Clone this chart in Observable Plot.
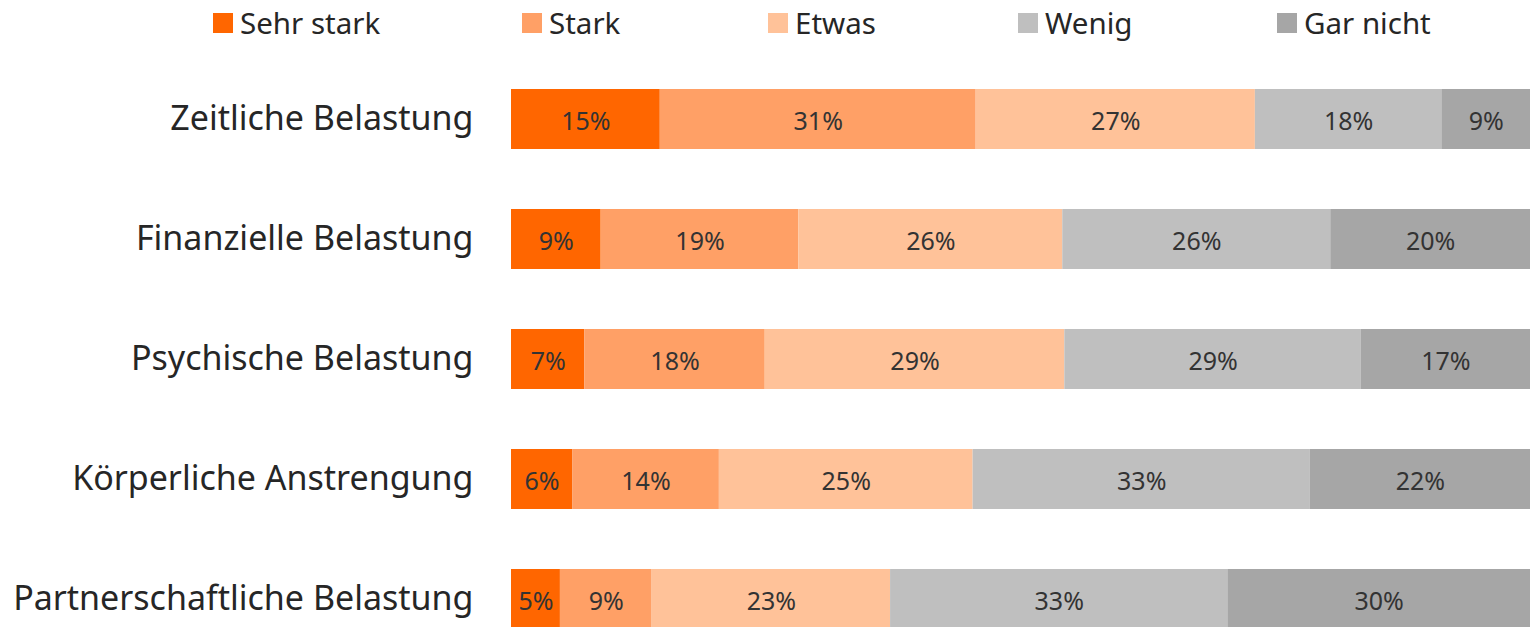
<!DOCTYPE html>
<html>
<head>
<meta charset="utf-8">
<script src="https://cdn.jsdelivr.net/npm/d3@7"></script>
<script src="https://cdn.jsdelivr.net/npm/@observablehq/plot@0.6"></script>
<style>
  html, body { margin: 0; padding: 0; background: #fff; overflow: hidden; }
  #wrap { position: relative; width: 1530px; height: 627px; }
  #legend { position: absolute; top: 0; left: 0; width: 1530px; height: 46px; font-family: "Noto Sans", sans-serif; font-size: 29.5px; color: #262626; }
  .item { position: absolute; top: 2px; display: flex; align-items: center; white-space: nowrap; }
  .sw { width: 20px; height: 20px; margin-right: 7px; }
  #chart { position: absolute; top: 0; left: 0; }
</style>
</head>
<body>
<div id="wrap">
  <div id="chart"></div>
  <div id="legend"></div>
</div>
<script>
const categories = [
  "Zeitliche Belastung",
  "Finanzielle Belastung",
  "Psychische Belastung",
  "Körperliche Anstrengung",
  "Partnerschaftliche Belastung"
];
const levels = ["Sehr stark", "Stark", "Etwas", "Wenig", "Gar nicht"];
const colors = ["#FF6600", "#FFA066", "#FFC299", "#BFBFBF", "#A6A6A6"];

// shares per category (percent), order follows `levels`
const sehrStark = [14.6, 8.8, 7.2, 6.0, 4.8];
const stark     = [31.0, 19.4, 17.7, 14.4, 9.0];
const etwas     = [27.4, 25.9, 29.4, 24.9, 23.4];
const wenig     = [18.3, 26.3, 29.1, 33.1, 33.1];
const garNicht  = [8.7, 19.6, 16.6, 21.6, 29.7];

const series = [sehrStark, stark, etwas, wenig, garNicht];
const data = [];
categories.forEach((c, i) => {
  levels.forEach((l, j) => {
    data.push({category: c, level: l, value: series[j][i]});
  });
});

const legendX = [213, 522, 768, 1018, 1277];
const legend = document.getElementById("legend");
levels.forEach((l, j) => {
  const it = document.createElement("div");
  it.className = "item";
  it.style.left = legendX[j] + "px";
  const sw = document.createElement("div");
  sw.className = "sw";
  sw.style.background = colors[j];
  const tx = document.createElement("span");
  tx.textContent = l;
  it.appendChild(sw);
  it.appendChild(tx);
  legend.appendChild(it);
});

const chart = Plot.plot({
  width: 1530,
  height: 700,
  marginTop: 27,
  marginBottom: 10,
  marginLeft: 511,
  marginRight: 0,
  style: {fontFamily: "'Noto Sans', sans-serif", color: "#262626", background: "#fff"},
  x: {domain: [0, 100], axis: null},
  y: {domain: categories, paddingInner: 0.5, paddingOuter: 0.5, label: null, axis: null},
  color: {domain: levels, range: colors},
  marks: [
    Plot.barX(data, Plot.stackX({x: "value", y: "category", z: "level", fill: "level"})),
    Plot.textX(data, Plot.stackX({
      x: "value", y: "category", z: "level",
      text: d => Math.round(d.value) + "%",
      fontSize: 25, fill: "#333333", dy: 2
    })),
    Plot.axisY({tickSize: 0, tickPadding: 38, fontSize: 34, label: null, fill: "#262626"})
  ]
});
document.getElementById("chart").appendChild(chart);
</script>
</body>
</html>
